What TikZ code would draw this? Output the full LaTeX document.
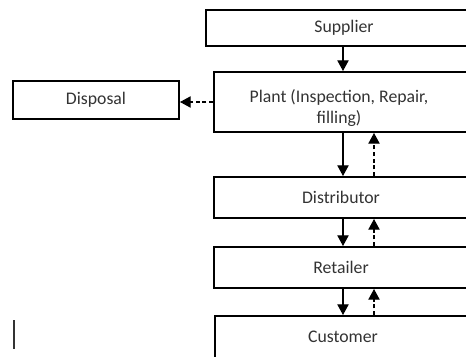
\documentclass[tikz,border=0pt]{standalone}
\usepackage{fontspec}
\setmainfont{Carlito}
\usetikzlibrary{arrows.meta}
\begin{document}
\begin{tikzpicture}[x=0.75pt,y=-0.75pt,
  box/.style={draw=black, line width=1.5pt, rectangle, inner sep=0pt},
  txt/.style={text=black!80, font=\fontsize{13.3pt}{15.75pt}\selectfont, inner sep=0pt},
  flow/.style={line width=0.8pt, -{Triangle[length=8pt,width=8.5pt]}},
  back/.style={line width=0.8pt, dash pattern=on 3pt off 2pt, -{Triangle[length=8pt,width=8.5pt]}}]
\useasboundingbox (0,0) rectangle (466,356);
\clip (0,0) rectangle (466,356);
% boxes
\node[box, minimum width=207pt, minimum height=27.4pt] (supplier) at (344,28.2) {};
\node[txt] (supplierlbl) at (344,28.2) {Supplier};
\node[box, minimum width=190.5pt, minimum height=45pt] (plant) at (341,102) {};
\node[txt, align=center] (plantlbl) at (339,108) {Plant (Inspection, Repair,\\filling)};
\node[box, minimum width=124.5pt, minimum height=28.5pt] (disposal) at (96,100) {};
\node[txt] (disposallbl) at (96,100) {Disposal};
\node[box, minimum width=190.5pt, minimum height=30.75pt] (dist) at (341,197.5) {};
\node[txt] (distlbl) at (341,197.5) {Distributor};
\node[box, minimum width=190.5pt, minimum height=30.75pt] (ret) at (341,267.5) {};
\node[txt] (retlbl) at (341,267.5) {Retailer};
\node[box, minimum width=189.75pt, minimum height=31.5pt] (cust) at (341.5,337) {};
\node[txt] (custlbl) at (343,337) {Customer};
% arrow lanes
\coordinate (sx) at (343,0);
\coordinate (dx) at (374,0);
\draw[flow] (supplier.south -| sx) -- (plant.north -| sx);
\draw[flow] (plant.south -| sx) -- (dist.north -| sx);
\draw[back] (dist.north -| dx) -- (plant.south -| dx);
\draw[flow] (dist.south -| sx) -- (ret.north -| sx);
\draw[back] (ret.north -| dx) -- (dist.south -| dx);
\draw[flow] (ret.south -| sx) -- (cust.north -| sx);
\draw[back] (cust.north -| dx) -- (ret.south -| dx);
\draw[back] (plant.west) -- (plant.west -| disposal.east);
% text cursor
\coordinate (cur1) at (14,320);
\coordinate (cur2) at (14,349);
\draw[line width=1pt, black!80] (cur1) -- (cur2);
\end{tikzpicture}
\end{document}
